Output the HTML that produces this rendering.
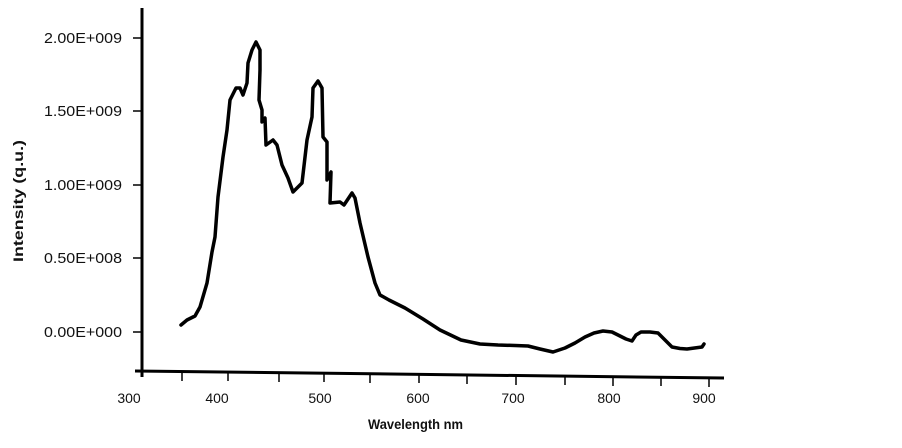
<!DOCTYPE html>
<html><head><meta charset="utf-8"><style>
body{margin:0;background:#fff;width:902px;height:443px;overflow:hidden}
text{font-family:"Liberation Sans",sans-serif;fill:#111}
</style></head><body>
<svg width="902" height="443" viewBox="0 0 902 443">
<line x1="142" y1="8" x2="142" y2="377" stroke="#000" stroke-width="3"/>
<line x1="135" y1="371" x2="724" y2="378" stroke="#000" stroke-width="3"/>
<g stroke="#000" stroke-width="1.5">
<line x1="133" y1="38" x2="142" y2="38"/><line x1="133" y1="111" x2="142" y2="111"/>
<line x1="133" y1="185" x2="142" y2="185"/><line x1="133" y1="258" x2="142" y2="258"/>
<line x1="133" y1="332" x2="142" y2="332"/>
<line x1="182" y1="372" x2="182" y2="381"/><line x1="228" y1="372" x2="228" y2="381"/>
<line x1="279" y1="373" x2="279" y2="382"/><line x1="324" y1="373" x2="324" y2="382"/>
<line x1="370" y1="374" x2="370" y2="383"/><line x1="419" y1="374" x2="419" y2="383"/>
<line x1="467" y1="375" x2="467" y2="384"/><line x1="516" y1="376" x2="516" y2="385"/>
<line x1="565" y1="376" x2="565" y2="385"/><line x1="613" y1="377" x2="613" y2="386"/>
<line x1="661" y1="377" x2="661" y2="386"/><line x1="709" y1="378" x2="709" y2="387"/>
</g>
<g font-size="15">
<text x="44" y="43" textLength="78" lengthAdjust="spacingAndGlyphs">2.00E+009</text>
<text x="44" y="116" textLength="78" lengthAdjust="spacingAndGlyphs">1.50E+009</text>
<text x="44" y="190" textLength="78" lengthAdjust="spacingAndGlyphs">1.00E+009</text>
<text x="44" y="263" textLength="78" lengthAdjust="spacingAndGlyphs">0.50E+008</text>
<text x="44" y="337" textLength="78" lengthAdjust="spacingAndGlyphs">0.00E+000</text>
</g>
<g font-size="14" text-anchor="middle">
<text x="129" y="403">300</text><text x="217" y="403">400</text><text x="320" y="403">500</text>
<text x="418" y="403">600</text><text x="513" y="403">700</text><text x="609" y="403">800</text>
<text x="704" y="403">900</text>
</g>
<text x="368" y="429" font-size="14" font-weight="bold" textLength="95" lengthAdjust="spacingAndGlyphs">Wavelength nm</text>
<text transform="translate(23,262) rotate(-90)" font-size="14" font-weight="bold" textLength="122" lengthAdjust="spacingAndGlyphs">Intensity (q.u.)</text>
<polyline fill="none" stroke="#000" stroke-width="3.5" stroke-linejoin="round" stroke-linecap="round" points="181,325 187,320 195,316 200,307 207,283 212,252 215,237 218,197 223,157 227,130 230,100 236,88 240,88 243,95 247,83 248,63 252,50 256,42 260,50 260,70 259,100 262,110 262,122 265,118 266,145 273,140 277,145 282,165 288,178 293,192 302,183 307,140 312,117 313,88 318,81 322,88 323,137 327,142 327,180 331,172 330,203 340,202 344,205 352,193 355,198 360,223 368,257 375,283 380,295 389,300 405,308 423,319 440,330 461,340 480,344 498,345 515,345.5 528,346 540,349 553,352 565,348 575,343 585,337 594,333 603,331 612,332 620,336 626,339 632,341 636,335 641,332 650,332 658,333 665,340 672,347 680,348.5 687,349 702,347 704,344"/>
</svg>
</body></html>
